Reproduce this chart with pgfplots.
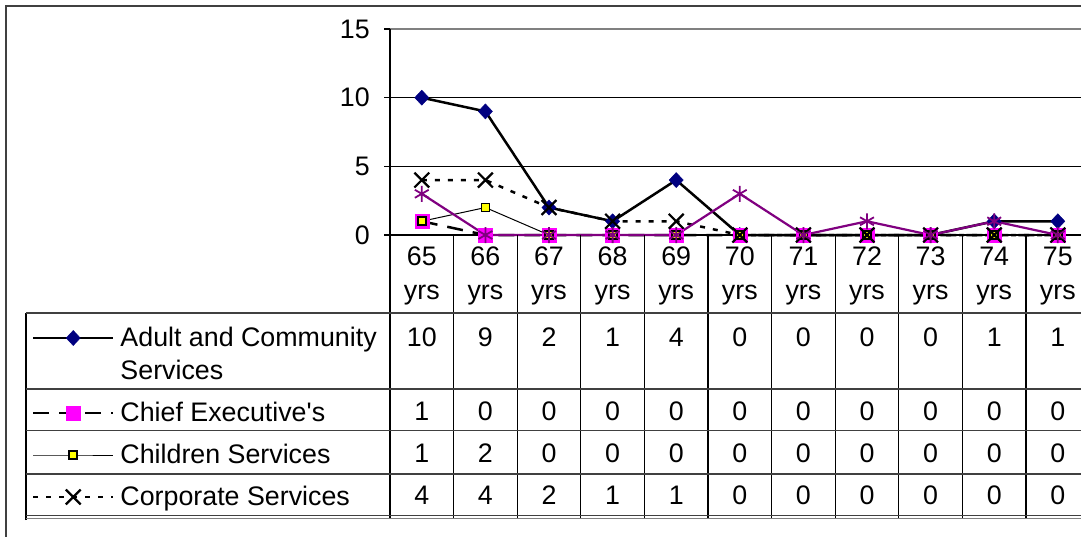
\documentclass[border=0pt]{standalone}
\usepackage{pgfplots}
\pgfplotsset{compat=1.18}
\usepackage{fontspec}
\setmainfont{Liberation Sans}
\definecolor{navy}{HTML}{000080}
\definecolor{mag}{HTML}{FF00FF}
\definecolor{purp}{HTML}{800080}
\definecolor{yel}{HTML}{FFFF00}
\definecolor{bord}{HTML}{404040}
\definecolor{gline}{HTML}{808080}
\newcommand{\cf}{\fontsize{26.8}{30.5}\selectfont}
\newcommand{\cft}{\fontsize{26.8}{33.5}\selectfont}
\begin{document}
\begin{tikzpicture}[x=1pt,y=1pt]
\useasboundingbox (0,0) rectangle (1081,536);
\clip (0,0) rectangle (1081,536);
% outer border
\draw[bord, line width=2.2pt] (6,-5) -- (6,530) -- (1090,530);
\begin{axis}[
  at={(390pt,301pt)}, anchor=south west,
  scale only axis, width=699.6pt, height=206pt,
  xmin=0, xmax=11, ymin=0, ymax=15,
  clip=false,
  axis line style={draw=none},
  xtick={0.5,1.5,...,10.5},
  xticklabels={{65\\yrs},{66\\yrs},{67\\yrs},{68\\yrs},{69\\yrs},{70\\yrs},{71\\yrs},{72\\yrs},{73\\yrs},{74\\yrs},{75\\yrs}},
  xticklabel style={align=center, font=\cft, anchor=north, inner sep=0pt, yshift=-6pt},
  x tick style={draw=none},
  ytick={0,5,10,15},
  ytick pos=left,
  tick align=outside,
  major tick length=6pt,
  y tick style={black, line width=1.2pt},
  yticklabel style={font=\cf, anchor=east, inner sep=0pt, xshift=-14pt},
  /pgf/number format/assume math mode=true,
  ymajorgrids,
  grid style={black, line width=1pt},
  legend image code/.code={\draw[mark repeat=2,mark phase=2,#1] plot coordinates {(0pt,8pt) (40pt,8pt) (80pt,8pt)};},
  legend style={draw=none, fill=none, inner sep=0pt, outer sep=0pt,
    at={(-0.51172,-0.43689)}, anchor=north west,
    column sep=6pt, row sep=7pt,
    cells={anchor=base west},
    nodes={inner sep=0pt, text height=21pt, text depth=14pt, font=\cf}},
]
\draw[gline, line width=2.5pt] (axis cs:0,15) -- (axis cs:11,15);
\draw[black, line width=1.5pt] (axis cs:0,0) -- (axis cs:0,15);
\draw[black, line width=1.5pt] (axis cs:0,0) -- (axis cs:11,0);
% Adult and Community Services
\addplot[black, line width=2.5pt, mark=diamond*, mark size=7.5pt,
  mark options={solid, fill=navy, draw=navy, line width=0.5pt, xscale=1.25}]
  coordinates {(0.5,10) (1.5,9) (2.5,2) (3.5,1) (4.5,4) (5.5,0) (6.5,0) (7.5,0) (8.5,0) (9.5,1) (10.5,1)};
\addlegendentry[text depth=5pt]{Adult and Community}
\addlegendimage{empty legend}
\addlegendentry{Services}
% Chief Executive's
\addplot[black, line width=2.5pt, dash pattern=on 16pt off 10pt, mark=square*, mark size=7pt,
  mark options={solid, fill=mag, draw=mag, line width=0.5pt}]
  coordinates {(0.5,1) (1.5,0) (2.5,0) (3.5,0) (4.5,0) (5.5,0) (6.5,0) (7.5,0) (8.5,0) (9.5,0) (10.5,0)};
\addlegendentry{Chief Executive\textquotesingle s}
% Children Services
\addplot[black, line width=1pt, mark=square*, mark size=4pt,
  mark options={solid, fill=yel, draw=black, line width=1.8pt}]
  coordinates {(0.5,1) (1.5,2) (2.5,0) (3.5,0) (4.5,0) (5.5,0) (6.5,0) (7.5,0) (8.5,0) (9.5,0) (10.5,0)};
\addlegendentry{Children Services}
% Corporate Services
\addplot[black, line width=2.5pt, dash pattern=on 5pt off 8pt, mark=x, mark size=10.5pt,
  mark options={solid, line width=2.2pt}]
  coordinates {(0.5,4) (1.5,4) (2.5,2) (3.5,1) (4.5,1) (5.5,0) (6.5,0) (7.5,0) (8.5,0) (9.5,0) (10.5,0)};
\addlegendentry{Corporate Services}
% fifth series (row hidden in the table)
\addplot[purp, line width=2.2pt, mark=asterisk, mark size=8pt,
  mark options={solid, line width=1.8pt}, forget plot]
  coordinates {(0.5,3) (1.5,0) (2.5,0) (3.5,0) (4.5,0) (5.5,3) (6.5,0) (7.5,1) (8.5,0) (9.5,1) (10.5,0)};
\end{axis}
% data table grid
\foreach \k in {0,...,11} {\draw[black, line width=1.3pt] (390+63.6*\k,301) -- (390+63.6*\k,18);}
\draw[black, line width=1.3pt] (26,16) -- (26,223);
\foreach \yy in {223,147,105.3,62,20.3} {\draw[black!75, line width=1.3pt] (26,\yy) -- (1090,\yy);}
\draw[gline, line width=1.5pt] (26,17.5) -- (1090,17.5);
% data table values
\foreach \v [count=\i from 0] in {10,9,2,1,4,0,0,0,0,1,1} {\node[anchor=base, inner sep=0pt] at (421.8+63.6*\i,190) {\cf\v};}
\foreach \v [count=\i from 0] in {1,0,0,0,0,0,0,0,0,0,0} {\node[anchor=base, inner sep=0pt] at (421.8+63.6*\i,115.5) {\cf\v};}
\foreach \v [count=\i from 0] in {1,2,0,0,0,0,0,0,0,0,0} {\node[anchor=base, inner sep=0pt] at (421.8+63.6*\i,74) {\cf\v};}
\foreach \v [count=\i from 0] in {4,4,2,1,1,0,0,0,0,0,0} {\node[anchor=base, inner sep=0pt] at (421.8+63.6*\i,31.5) {\cf\v};}
\end{tikzpicture}
\end{document}
